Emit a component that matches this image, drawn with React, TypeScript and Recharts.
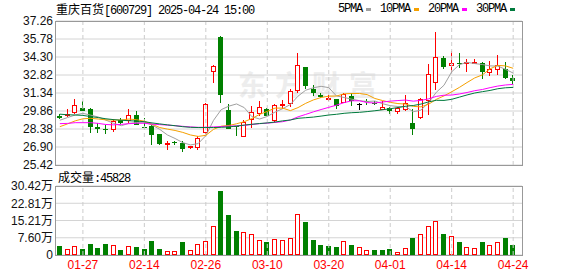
import { Bar, CartesianGrid, ComposedChart, Line, ReferenceLine, XAxis, YAxis } from 'recharts'

const dates = [
  '01-22', '01-23', '01-24', '01-27', '02-05', '02-06', '02-07', '02-10', '02-11', '02-12',
  '02-13', '02-14', '02-17', '02-18', '02-19', '02-20', '02-21', '02-24', '02-25', '02-26',
  '02-27', '02-28', '03-03', '03-04', '03-05', '03-06', '03-07', '03-10', '03-11', '03-12',
  '03-13', '03-14', '03-17', '03-18', '03-19', '03-20', '03-21', '03-24', '03-25', '03-26',
  '03-27', '03-28', '03-31', '04-01', '04-02', '04-03', '04-07', '04-08', '04-09', '04-10',
  '04-11', '04-14', '04-15', '04-16', '04-17', '04-18', '04-21', '04-22', '04-23', '04-24',
]

const openPrices = [
  29.45, 29.48, 29.72, 30.14, 30.05, 28.55, 28.38, 28.27, 29.09, 29.04,
  29.56, 28.55, 28.63, 27.94, 27.09, 27.28, 27.2, 26.82, 26.85, 28.08,
  33.09, 35.97, 29.92, 28.63, 27.73, 29.09, 29.64, 29.99, 29.01, 30.33,
  30.41, 31.53, 33.45, 31.7, 31.15, 30.88, 30.82, 30.55, 31.07, 30.41,
  30.68, 30.52, 29.94, 30.08, 29.81, 29.92, 28.85, 29.29, 30.71, 32.19,
  34.25, 33.59, 33.81, 33.81, 33.81, 33.84, 33.01, 33.23, 33.29, 32.55,
]
const highPrices = [
  29.58, 29.99, 30.82, 30.66, 30.1, 28.85, 28.68, 29.23, 29.29, 30.05,
  29.89, 29.26, 28.68, 27.99, 27.42, 27.4, 27.4, 26.99, 27.83, 30.5,
  33.62, 35.99, 30.41, 28.65, 29.12, 30.25, 30.68, 30.14, 30.4, 30.74,
  31.64, 34.66, 33.48, 31.97, 31.31, 31.15, 30.88, 31.37, 31.37, 30.49,
  30.82, 30.65, 30.71, 30.22, 30.22, 31.15, 30.0, 30.9, 33.7, 36.33,
  34.38, 34.77, 34.6, 34.16, 34.11, 33.89, 33.94, 34.44, 33.89, 32.79,
]
const lowPrices = [
  29.18, 29.37, 29.64, 29.83, 28.08, 28.08, 27.97, 28.16, 28.82, 28.9,
  28.68, 28.44, 27.07, 27.04, 26.66, 27.04, 26.49, 26.77, 26.66, 27.94,
  32.19, 30.55, 28.36, 27.81, 27.71, 28.46, 29.45, 29.42, 28.99, 29.99,
  30.22, 31.37, 31.64, 31.09, 30.96, 30.66, 30.05, 30.5, 30.27, 29.94,
  30.33, 30.33, 29.92, 29.59, 29.62, 29.86, 27.89, 29.18, 29.51, 31.59,
  33.29, 32.99, 33.4, 33.07, 33.7, 32.52, 32.74, 32.85, 32.52, 32.06,
]
const closePrices = [
  29.3, 29.64, 30.38, 29.86, 28.55, 28.41, 28.33, 29.04, 28.9, 29.56,
  28.74, 28.46, 27.89, 27.12, 27.26, 27.24, 26.77, 26.96, 27.67, 30.47,
  33.59, 31.15, 28.41, 28.57, 28.99, 29.81, 30.22, 29.45, 30.38, 30.41,
  31.48, 33.67, 31.92, 31.37, 31.01, 30.93, 30.27, 31.26, 30.68, 30.41,
  30.6, 30.47, 30.16, 29.86, 30.08, 30.55, 28.36, 30.82, 32.93, 34.33,
  33.48, 33.84, 33.78, 33.86, 33.86, 33.07, 33.29, 33.67, 32.55, 32.3,
]

const ma5 = [
  29.1, 29.32, 29.53, 29.67, 29.52, 29.37, 29.11, 28.84, 28.65, 28.85,
  28.91, 28.94, 28.71, 28.35, 27.89, 27.6, 27.26, 27.07, 27.18, 27.83,
  29.09, 29.97, 30.26, 30.44, 30.14, 29.39, 29.2, 29.41, 29.77, 30.05,
  30.39, 31.08, 31.57, 31.77, 31.89, 31.78, 31.1, 30.97, 30.83, 30.71,
  30.64, 30.68, 30.46, 30.3, 30.23, 30.22, 29.8, 29.93, 30.55, 31.4,
  31.98, 33.08, 33.67, 33.86, 33.76, 33.68, 33.57, 33.55, 33.29, 32.98,
]
const ma10 = [
  28.57, 28.8, 29.05, 29.22, 29.26, 29.2, 29.13, 29.12, 29.12, 29.2,
  29.14, 29.02, 28.77, 28.5, 28.37, 28.26, 28.1, 27.89, 27.77, 27.86,
  28.35, 28.61, 28.67, 28.81, 28.98, 29.24, 29.58, 29.83, 30.1, 30.1,
  29.89, 30.14, 30.49, 30.77, 30.97, 31.08, 31.09, 31.27, 31.3, 31.3,
  31.21, 30.89, 30.72, 30.57, 30.47, 30.43, 30.24, 30.2, 30.42, 30.82,
  31.1, 31.44, 31.8, 32.2, 32.58, 32.83, 33.33, 33.61, 33.57, 33.37,
]
const ma20 = [
  28.82, 28.84, 28.9, 28.9, 28.9, 28.84, 28.75, 28.72, 28.76, 28.82,
  28.85, 28.85, 28.78, 28.74, 28.7, 28.65, 28.6, 28.55, 28.52, 28.52,
  28.55, 28.58, 28.62, 28.64, 28.68, 28.75, 28.82, 28.86, 28.92, 28.98,
  29.12, 29.38, 29.58, 29.79, 29.98, 30.16, 30.34, 30.55, 30.7, 30.7,
  30.55, 30.52, 30.6, 30.67, 30.72, 30.76, 30.67, 30.73, 30.86, 31.06,
  31.16, 31.17, 31.26, 31.38, 31.53, 31.63, 31.78, 31.91, 32.0, 32.05,
]
const ma30 = [
  29.6, 29.55, 29.53, 29.5, 29.4, 29.32, 29.22, 29.15, 29.1, 29.06,
  29.03, 28.98, 28.88, 28.8, 28.72, 28.65, 28.57, 28.52, 28.5, 28.5,
  28.5, 28.52, 28.55, 28.62, 28.7, 28.77, 28.83, 28.88, 28.95, 29.05,
  29.12, 29.26, 29.31, 29.36, 29.44, 29.53, 29.59, 29.67, 29.72, 29.75,
  29.81, 29.88, 29.96, 30.05, 30.14, 30.25, 30.31, 30.43, 30.61, 30.74,
  30.73, 30.82, 31.0, 31.18, 31.34, 31.45, 31.55, 31.69, 31.77, 31.8,
]

const volumes = [
  38300, 28000, 41300, 25100, 47200, 29500, 47200, 45700, 20600, 41300,
  33900, 25100, 60400, 25100, 16200, 19200, 56000, 20600, 50100, 60400,
  126800, 281500, 175400, 104700, 100200, 91400, 67800, 56000, 72200, 64900,
  76600, 182800, 144500, 67800, 42700, 38300, 33900, 63400, 42700, 36900,
  23600, 20600, 20600, 25100, 14700, 32400, 73700, 91400, 126800, 148900,
  92900, 82500, 56000, 36900, 32400, 56000, 45700, 56000, 73700, 45828,
]
// r = red hollow bar, g = green filled bar, as drawn in the volume panel
const volumeColors = 'grrggggrgrggggrrgrrrrgggrrrgrrrrgggggrgrrgggrrgrrrgrgrrgrrgg'.split('')

const priceTicks = [25.42, 26.9, 28.38, 29.86, 31.34, 32.82, 34.3, 35.78, 37.26]
const volumeTicks = [0, 76050, 152100, 228150, 304200]
const volumeTickLabels = ['0', '7.60万', '15.21万', '22.81万', '30.42万']
const dateTicks = ['01-27', '02-14', '02-26', '03-10', '03-20', '04-01', '04-14', '04-24']

const maSeries = [
  { key: 'ma5', name: '5PMA', color: '#a0a0a0' },
  { key: 'ma10', name: '10PMA', color: '#f5a000' },
  { key: 'ma20', name: '20PMA', color: '#ff00ff' },
  { key: 'ma30', name: '30PMA', color: '#007a3d' },
]

const RED = '#ff0000'
const GREEN = '#008000'
const axisFont = "'Liberation Sans', 'Noto Sans CJK SC', sans-serif"
const monoFont = "'Liberation Mono', monospace"
const cjkFont = "'Noto Sans CJK SC', sans-serif"

const data = dates.map((date, i) => ({
  date,
  open: openPrices[i],
  high: highPrices[i],
  low: lowPrices[i],
  close: closePrices[i],
  range: [lowPrices[i], highPrices[i]],
  ma5: ma5[i],
  ma10: ma10[i],
  ma20: ma20[i],
  ma30: ma30[i],
  volume: volumes[i],
  volumeUp: volumeColors[i] === 'r',
}))

const Candle = (props: any) => {
  const { x, y, width, height, index } = props
  const d = data[index]
  const top = Math.min(y, y + height)
  const span = Math.abs(height)
  const toY = (v: number) => top + ((d.high - v) / (d.high - d.low)) * span
  const cx = Math.floor(x + width / 2) + 0.5
  const yHigh = Math.round(toY(d.high))
  const yLow = Math.round(toY(d.low))
  const bodyTop = Math.round(toY(Math.max(d.open, d.close)))
  const bodyBottom = Math.round(toY(Math.min(d.open, d.close)))
  const up = d.close > d.open
  const flat = d.close === d.open
  const color = up ? RED : flat ? '#000' : GREEN
  return (
    <g>
      <line x1={cx} x2={cx} y1={yHigh} y2={yLow} stroke={color} />
      {flat ? (
        <line x1={cx - 2.5} x2={cx + 2.5} y1={bodyTop + 0.5} y2={bodyTop + 0.5} stroke={color} />
      ) : up ? (
        <rect x={cx - 2} y={bodyTop + 0.5} width={4} height={Math.max(bodyBottom - bodyTop - 1, 1)} fill="#fff" stroke={color} />
      ) : (
        <rect x={cx - 2.5} y={bodyTop} width={5} height={Math.max(bodyBottom - bodyTop, 1)} fill={color} />
      )}
    </g>
  )
}

const VolumeBar = (props: any) => {
  const { x, y, width, height, index } = props
  const d = data[index]
  const cx = Math.floor(x + width / 2) + 0.5
  const top = Math.round(Math.min(y, y + height))
  const bottom = Math.round(Math.max(y, y + height))
  if (d.volumeUp) {
    return <rect x={cx - 2} y={top + 0.5} width={4} height={Math.max(bottom - top - 1, 1)} fill="#fff" stroke={RED} />
  }
  return <rect x={cx - 2.5} y={top} width={5} height={bottom - top} fill={GREEN} />
}

const App = () => {
  return (
    <div style={{ position: 'absolute', left: 0, top: 0, width: 578, height: 276, background: '#fff', overflow: 'hidden' }}>
      <div
        style={{
          position: 'absolute', left: 238, top: 70, fontFamily: cjkFont, fontSize: 28, lineHeight: '28px',
          fontWeight: 700, letterSpacing: 9, color: '#ededed', whiteSpace: 'nowrap',
        }}
      >
        东方财富
      </div>

      <div style={{ position: 'absolute', left: 56, top: 2, height: 14, lineHeight: '14px', fontSize: 12, whiteSpace: 'pre', color: '#000' }}>
        <span style={{ fontFamily: cjkFont }}>重庆百货</span>
        <span style={{ fontFamily: monoFont, letterSpacing: -1.2 }}>[600729] 2025-04-24 15:00</span>
      </div>

      <div style={{ position: 'absolute', left: 338, top: 2, height: 14, display: 'flex', alignItems: 'center', fontFamily: monoFont, fontSize: 12, letterSpacing: -1.2, color: '#000' }}>
        {maSeries.map((s) => (
          <span key={s.key} style={{ display: 'flex', alignItems: 'center', marginRight: 9 }}>
            <span>{s.name}</span>
            <span style={{ display: 'inline-block', width: 5, height: 3, marginLeft: 4, background: s.color }} />
          </span>
        ))}
      </div>

      <div style={{ position: 'absolute', left: 58, top: 170, height: 14, lineHeight: '14px', fontSize: 12, whiteSpace: 'pre', color: '#000' }}>
        <span style={{ fontFamily: cjkFont }}>成交量</span>
        <span style={{ fontFamily: monoFont, letterSpacing: -1.2 }}>:45828</span>
      </div>

      <div style={{ position: 'absolute', left: 0, top: 0 }}>
        <ComposedChart width={578} height={178} data={data} margin={{ top: 21, right: 56, bottom: 13, left: 0 }}>
          <CartesianGrid vertical={false} stroke="#d4d4d4" />
          {dateTicks.map((d) => (
            <ReferenceLine key={d} x={d} stroke="#cccccc" strokeDasharray="4 3" />
          ))}
          <XAxis dataKey="date" hide padding={{ left: 0, right: 5 }} />
          <YAxis
            domain={[25.42, 37.26]}
            ticks={priceTicks}
            interval={0}
            allowDataOverflow
            tickFormatter={(v) => Number(v).toFixed(2)}
            width={56}
            axisLine={false}
            tickLine={false}
            tickSize={0}
            tickMargin={3}
            tick={{ fill: '#111', fontSize: 12, fontFamily: axisFont }}
          />
          <Bar dataKey="range" barSize={5} isAnimationActive={false} shape={(p: any) => <Candle {...p} />} />
          {maSeries.map((s) => (
            <Line
              key={s.key}
              type="linear"
              dataKey={s.key}
              stroke={s.color}
              strokeWidth={1}
              dot={false}
              activeDot={false}
              isAnimationActive={false}
            />
          ))}
        </ComposedChart>
      </div>

      <div style={{ position: 'absolute', left: 0, top: 170 }}>
        <ComposedChart width={578} height={106} data={data} margin={{ top: 16, right: 56, bottom: 1, left: 0 }}>
          <CartesianGrid vertical={false} stroke="#d4d4d4" />
          {dateTicks.map((d) => (
            <ReferenceLine key={d} x={d} stroke="#cccccc" strokeDasharray="4 3" />
          ))}
          <XAxis
            dataKey="date"
            ticks={dateTicks}
            interval={0}
            padding={{ left: 0, right: 5 }}
            height={20}
            axisLine={false}
            tickLine={false}
            tickSize={0}
            tickMargin={5}
            tick={{ fill: RED, fontSize: 12, fontFamily: axisFont }}
          />
          <YAxis
            domain={[0, 304200]}
            ticks={volumeTicks}
            interval={0}
            allowDataOverflow
            tickFormatter={(v) => volumeTickLabels[volumeTicks.indexOf(Number(v))] ?? ''}
            width={56}
            axisLine={false}
            tickLine={false}
            tickSize={0}
            tickMargin={3}
            tick={{ fill: '#111', fontSize: 12, fontFamily: axisFont }}
          />
          <Bar dataKey="volume" barSize={5} isAnimationActive={false} shape={(p: any) => <VolumeBar {...p} />} />
        </ComposedChart>
      </div>

      <div style={{ position: 'absolute', left: 55, top: 21, width: 468, height: 145, border: '1px solid #999', boxSizing: 'border-box', pointerEvents: 'none' }} />
      <div style={{ position: 'absolute', left: 55, top: 186, width: 468, height: 70, border: '1px solid #999', boxSizing: 'border-box', pointerEvents: 'none' }} />
    </div>
  )
}

export default App
